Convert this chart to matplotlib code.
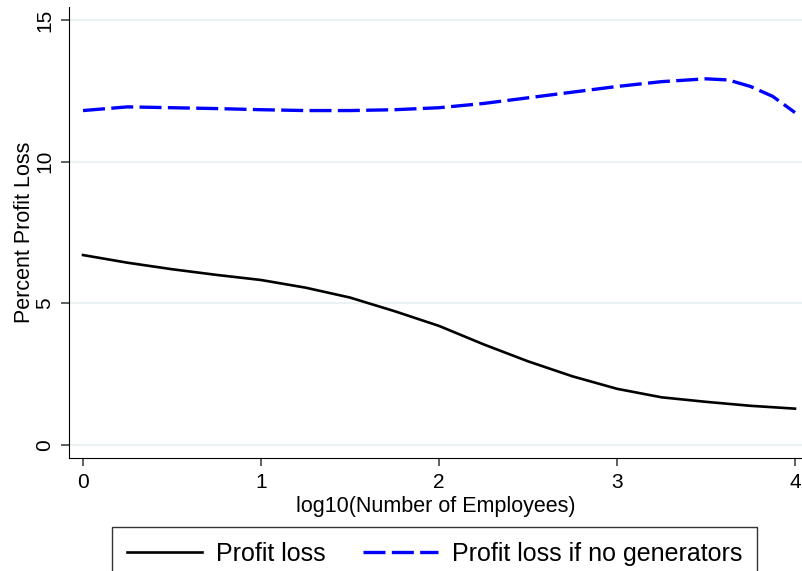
import numpy as np
import matplotlib.pyplot as plt

plt.rcParams['font.family'] = ['Liberation Sans', 'DejaVu Sans']

# smoothed profit loss against firm size
log_emp = [0.0, 0.25, 0.5, 0.75, 1.0, 1.25, 1.5, 1.75, 2.0, 2.25, 2.5,
           2.75, 3.0, 3.25, 3.5, 3.75, 4.0]
profit_loss = [6.7, 6.43, 6.2, 6.0, 5.82, 5.55, 5.2, 4.72, 4.2, 3.55, 2.95,
               2.42, 1.98, 1.68, 1.52, 1.38, 1.28]

log_emp_nogen = [0.0, 0.25, 0.5, 0.75, 1.0, 1.25, 1.5, 1.75, 2.0, 2.25, 2.5,
                 2.75, 3.0, 3.25, 3.5, 3.625, 3.75, 3.875, 4.0]
profit_loss_nogen = [11.8, 11.93, 11.9, 11.87, 11.83, 11.8, 11.8, 11.83, 11.9,
                     12.05, 12.25, 12.45, 12.65, 12.82, 12.92, 12.88, 12.65,
                     12.3, 11.73]

x_ticks = [0, 1, 2, 3, 4]
y_ticks = [0, 5, 10, 15]

fig = plt.figure(figsize=(8.03, 5.71), dpi=100)
ax = fig.add_axes([0.0859, 0.198, 0.9141, 0.79])

ax.plot(log_emp, profit_loss, color='black', lw=1.9, label='Profit loss')
ax.plot(log_emp_nogen, profit_loss_nogen, color='blue', lw=2.4,
        dashes=(6.6, 1.9), label='Profit loss if no generators')

ax.set_xlim(-0.079, 4.045)
ax.set_ylim(-0.46, 15.46)
ax.set_xticks(x_ticks)
ax.set_yticks(y_ticks)
ax.tick_params(axis='both', direction='out', length=6, width=1.2,
               labelsize=15, color='#444444', pad=4.5)
for lbl in ax.get_yticklabels():
    lbl.set_rotation(90)
    lbl.set_va('center')

ax.grid(axis='y', color='#e8f0f1', lw=1.2)
ax.set_axisbelow(True)
for side in ['top', 'right']:
    ax.spines[side].set_visible(False)

ax.set_xlabel('log10(Number of Employees)', fontsize=15.5, labelpad=3)
ax.set_ylabel('Percent Profit Loss', fontsize=15.5, labelpad=0.5)

leg = fig.legend(loc='upper center', bbox_to_anchor=(434.5 / 803, 1 - 527 / 571),
                 ncol=2, fontsize=18, frameon=True, fancybox=False,
                 edgecolor='black', handlelength=3.0, handletextpad=0.55,
                 columnspacing=1.5, borderpad=0.6, borderaxespad=0)
leg.get_frame().set_linewidth(1)

fig.savefig('out.png', dpi=100)
